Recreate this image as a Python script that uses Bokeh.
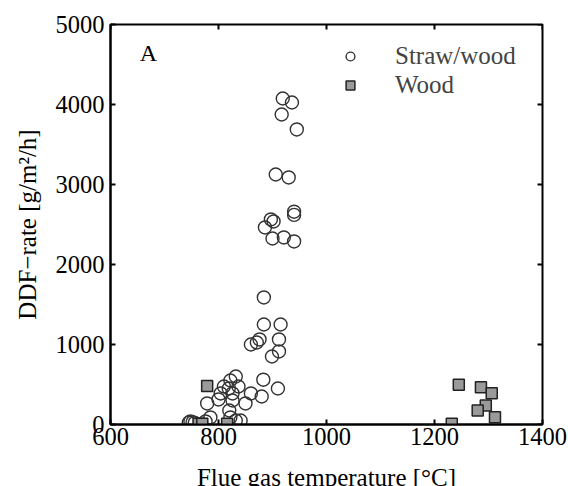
import math
from bokeh.plotting import figure
from bokeh.models import Legend, LegendItem, FixedTicker, ColumnDataSource, Label
from bokeh.core.properties import value
from bokeh.embed import file_html
from bokeh.resources import INLINE

# Straw/wood series (flue gas temperature [°C], DDF-rate [g/m2/h])
straw_T = [919, 936, 917, 945, 906, 930, 940, 940, 897, 902, 886, 900, 921, 940,
           884, 884, 915, 912, 876, 871, 860, 912, 899, 883, 910, 880,
           832, 822, 810, 837, 819, 860, 804, 826, 779, 800, 826, 850,
           820, 822, 841, 785, 832, 776, 748, 752, 745, 756]
straw_V = [4075, 4025, 3875, 3688, 3125, 3088, 2660, 2620, 2563, 2538, 2463, 2325, 2338, 2288,
           1588, 1250, 1250, 1063, 1063, 1025, 1000, 913, 850, 560, 450, 350,
           600, 550, 475, 475, 450, 388, 388, 388, 263, 313, 300, 263,
           175, 88, 50, 88, 50, 38, 38, 30, 25, 20]

# Wood series
wood_T = [779, 763, 770, 816, 1232, 1245, 1286, 1306, 1295, 1280, 1312]
wood_V = [480, 8, 8, 8, 8, 496, 466, 392, 237, 175, 92]

x_ticks = [600, 800, 1000, 1200, 1400]
y_ticks = [0, 1000, 2000, 3000, 4000, 5000]
panel_label = "A"
x_title = "Flue gas temperature [°C]"
y_title = "DDF\u2212rate [g/m\u00b2/h]"
series_names = ["Straw/wood", "Wood"]

FONT = "Liberation Serif"

p = figure(width=568, height=486, x_range=(x_ticks[0], x_ticks[-1]), y_range=(y_ticks[0], y_ticks[-1]),
           output_backend="svg", toolbar_location=None,
           min_border_left=110, min_border_right=26, min_border_top=24, min_border_bottom=62,
           y_axis_label=y_title)

p.xgrid.visible = False
p.ygrid.visible = False
p.outline_line_color = "black"
p.outline_line_width = 2
p.background_fill_color = "white"
p.border_fill_color = "white"

for ax in (p.xaxis[0], p.yaxis[0]):
    ax.axis_line_width = 2
    ax.axis_line_color = "black"
    ax.major_tick_in = 5
    ax.major_tick_out = 0
    ax.major_tick_line_width = 2
    ax.minor_tick_line_color = None
    ax.major_label_text_font = FONT
    ax.major_label_text_font_size = "24.5px"
    ax.major_label_text_color = "black"
    ax.axis_label_text_font = FONT
    ax.axis_label_text_font_size = "25px"
    ax.axis_label_text_font_style = "normal"
    ax.axis_label_text_color = "black"

p.xaxis[0].ticker = FixedTicker(ticks=x_ticks)
p.yaxis[0].ticker = FixedTicker(ticks=y_ticks)
p.xaxis[0].major_label_standoff = 3
p.yaxis[0].major_label_standoff = 6
p.yaxis[0].axis_label_standoff = 12

# x-axis title in the bottom border panel (sits on the page's bottom edge, as in the reference)
p.add_layout(Label(x=(x_ticks[0] + x_ticks[-1]) / 2, y=-3, x_units="data", y_units="screen",
                   text=x_title, text_font=FONT, text_font_size="25px", text_color="black",
                   text_align="center", text_baseline="alphabetic"), "below")

# inward ticks on the top and right edges of the box
p.ray(x=x_ticks, y=[y_ticks[-1]] * len(x_ticks), length=5, length_units="screen",
      angle=-math.pi / 2, line_color="black", line_width=2)
p.ray(x=[x_ticks[-1]] * len(y_ticks), y=y_ticks, length=5, length_units="screen",
      angle=math.pi, line_color="black", line_width=2)

src_s = ColumnDataSource(dict(x=straw_T, y=straw_V))
src_w = ColumnDataSource(dict(x=wood_T, y=wood_V))

r1 = p.scatter("x", "y", source=src_s, marker="circle", size=13, fill_alpha=0,
               line_color="#333333", line_width=1.4)
r2 = p.scatter("x", "y", source=src_w, marker="square", size=11, fill_color="#9a9a9a",
               line_color="#222222", line_width=1.5)

p.text(x=[654], y=[4650], text=[panel_label], text_font=value(FONT), text_font_size="24px",
       text_baseline="middle", text_align="left", text_color="black")

legend = Legend(items=[LegendItem(label=series_names[0], renderers=[r1]),
                       LegendItem(label=series_names[1], renderers=[r2])],
                location=(228, 325), border_line_alpha=0, background_fill_alpha=0,
                label_text_font=FONT, label_text_font_size="25px",
                glyph_width=24, glyph_height=22, label_height=22, spacing=1,
                label_standoff=33, padding=0, margin=0)
p.add_layout(legend)

open("out.html", "w").write(file_html(p, INLINE))
